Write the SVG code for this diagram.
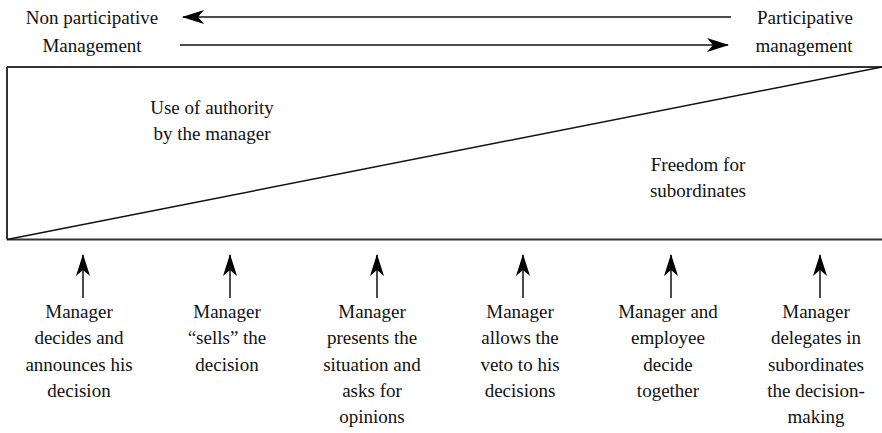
<svg xmlns="http://www.w3.org/2000/svg" width="882" height="433" viewBox="0 0 882 433">
<defs>
<style>
text{font-size:19px;fill:#111;text-anchor:middle}
.ln{stroke:#111;stroke-width:1.5;fill:none}
.fr{stroke:#333;stroke-width:2;fill:none}
</style>
<marker id="ah" viewBox="0 0 22 14" refX="21" refY="7" markerWidth="22" markerHeight="14" markerUnits="userSpaceOnUse" orient="auto">
<path d="M0,0 L22,7 L0,14 L6,7 Z" fill="#000"/>
</marker>
</defs>
<rect width="882" height="433" fill="#fff"/>
<g id="frame">
<path class="fr" d="M7,67 H882 M7,67 V239.5 M7,239.5 H882"/>
<path class="ln" d="M7,239.5 L882,67"/>
</g>
<g font-family="Liberation Serif, Times New Roman, Times, serif">
<g id="top-labels">
<text x="92" y="24">Non participative</text>
<text x="92" y="52">Management</text>
<text x="805" y="24">Participative</text>
<text x="804" y="52">management</text>
</g>
<g id="inner-labels">
<text x="212" y="114">Use of authority</text>
<text x="212" y="140">by the manager</text>
<text x="698" y="171">Freedom for</text>
<text x="698" y="197">subordinates</text>
</g>
<g id="style1">
<text x="79" y="318">Manager</text>
<text x="79" y="344">decides and</text>
<text x="79" y="371">announces his</text>
<text x="79" y="397">decision</text>
</g>
<g id="style2">
<text x="227" y="318">Manager</text>
<text x="227" y="344">“sells” the</text>
<text x="227" y="371">decision</text>
</g>
<g id="style3">
<text x="372" y="318">Manager</text>
<text x="372" y="344">presents the</text>
<text x="372" y="371">situation and</text>
<text x="372" y="397">asks for</text>
<text x="372" y="423">opinions</text>
</g>
<g id="style4">
<text x="520" y="318">Manager</text>
<text x="520" y="344">allows the</text>
<text x="520" y="371">veto to his</text>
<text x="520" y="397">decisions</text>
</g>
<g id="style5">
<text x="668" y="318">Manager and</text>
<text x="668" y="344">employee</text>
<text x="668" y="371">decide</text>
<text x="668" y="397">together</text>
</g>
<g id="style6">
<text x="816" y="318">Manager</text>
<text x="816" y="344">delegates in</text>
<text x="816" y="371">subordinates</text>
<text x="816" y="397">the decision-</text>
<text x="816" y="423">making</text>
</g>
</g>
<g id="connectors">
<line class="ln" x1="731" y1="17" x2="183" y2="17" marker-end="url(#ah)"/>
<line class="ln" x1="180" y1="45" x2="728" y2="45" marker-end="url(#ah)"/>
<line class="ln" x1="83" y1="298" x2="83" y2="255" marker-end="url(#ah)"/>
<line class="ln" x1="230" y1="298" x2="230" y2="255" marker-end="url(#ah)"/>
<line class="ln" x1="377" y1="298" x2="377" y2="255" marker-end="url(#ah)"/>
<line class="ln" x1="523" y1="298" x2="523" y2="255" marker-end="url(#ah)"/>
<line class="ln" x1="671" y1="298" x2="671" y2="255" marker-end="url(#ah)"/>
<line class="ln" x1="820" y1="298" x2="820" y2="255" marker-end="url(#ah)"/>
</g>
</svg>
